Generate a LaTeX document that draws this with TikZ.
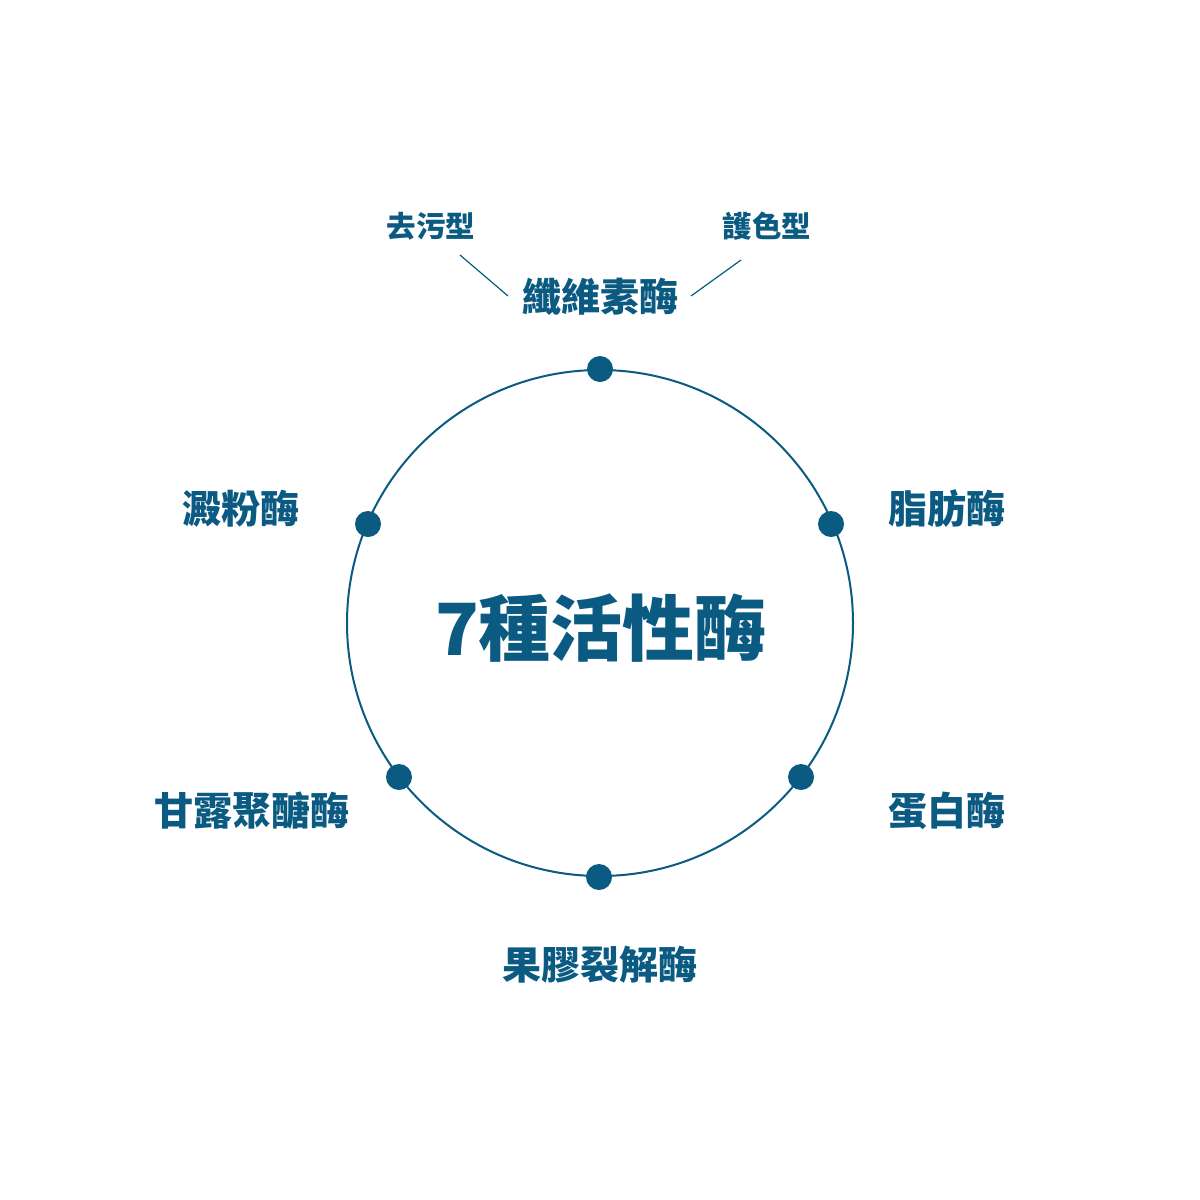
\documentclass[tikz,border=0pt]{standalone}
\usepackage{fontspec}
\newfontfamily\cjk{Noto Sans CJK TC}
\definecolor{enz}{HTML}{0A5A82}
\begin{document}
\begin{tikzpicture}[x=1pt,y=-1pt,
  lbl/.style={text=enz,font=\cjk\bfseries\fontsize{39}{39}\selectfont,inner sep=0pt,anchor=center},
  sub/.style={text=enz,font=\cjk\bfseries\fontsize{29.5}{30}\selectfont,inner sep=0pt,anchor=center},
  dot/.style={circle,fill=enz,draw=none,minimum size=26pt,inner sep=0pt},
  ring/.style={draw=enz,line width=2pt},
  lead/.style={draw=enz,line width=1.2pt}]
\useasboundingbox (0,0) rectangle (1200,1200);
\fill[white] (0,0) rectangle (1200,1200);
\node[circle,minimum size=506pt,inner sep=0pt,ring] (c) at (600,623) {};
\node[text=enz,font=\cjk\bfseries\fontsize{72}{72}\selectfont,inner sep=0pt] (title) at (601,628) {7種活性酶};
\node[dot] (d1) at (600,369) {};
\node[dot] (d2) at (831,524) {};
\node[dot] (d3) at (801,777) {};
\node[dot] (d4) at (599,877) {};
\node[dot] (d5) at (399,777) {};
\node[dot] (d6) at (368,524) {};
\node[lbl] (cel) at (600,297) {纖維素酶};
\node[sub] (qu) at (431,226) {去污型};
\node[sub] (hu) at (767,226) {護色型};
\node[lbl] (zhi) at (947,509) {脂肪酶};
\node[lbl] (dan) at (947,811) {蛋白酶};
\node[lbl] (guo) at (600,965) {果膠裂解酶};
\node[lbl] (gan) at (252,811) {甘露聚醣酶};
\node[lbl] (dian) at (241,509) {澱粉酶};
\coordinate (l1) at (460,255);
\coordinate (l2) at (508,296);
\coordinate (r1) at (741,260);
\coordinate (r2) at (691,296);
\draw[lead] (l1) -- (l2);
\draw[lead] (r1) -- (r2);
\end{tikzpicture}
\end{document}
